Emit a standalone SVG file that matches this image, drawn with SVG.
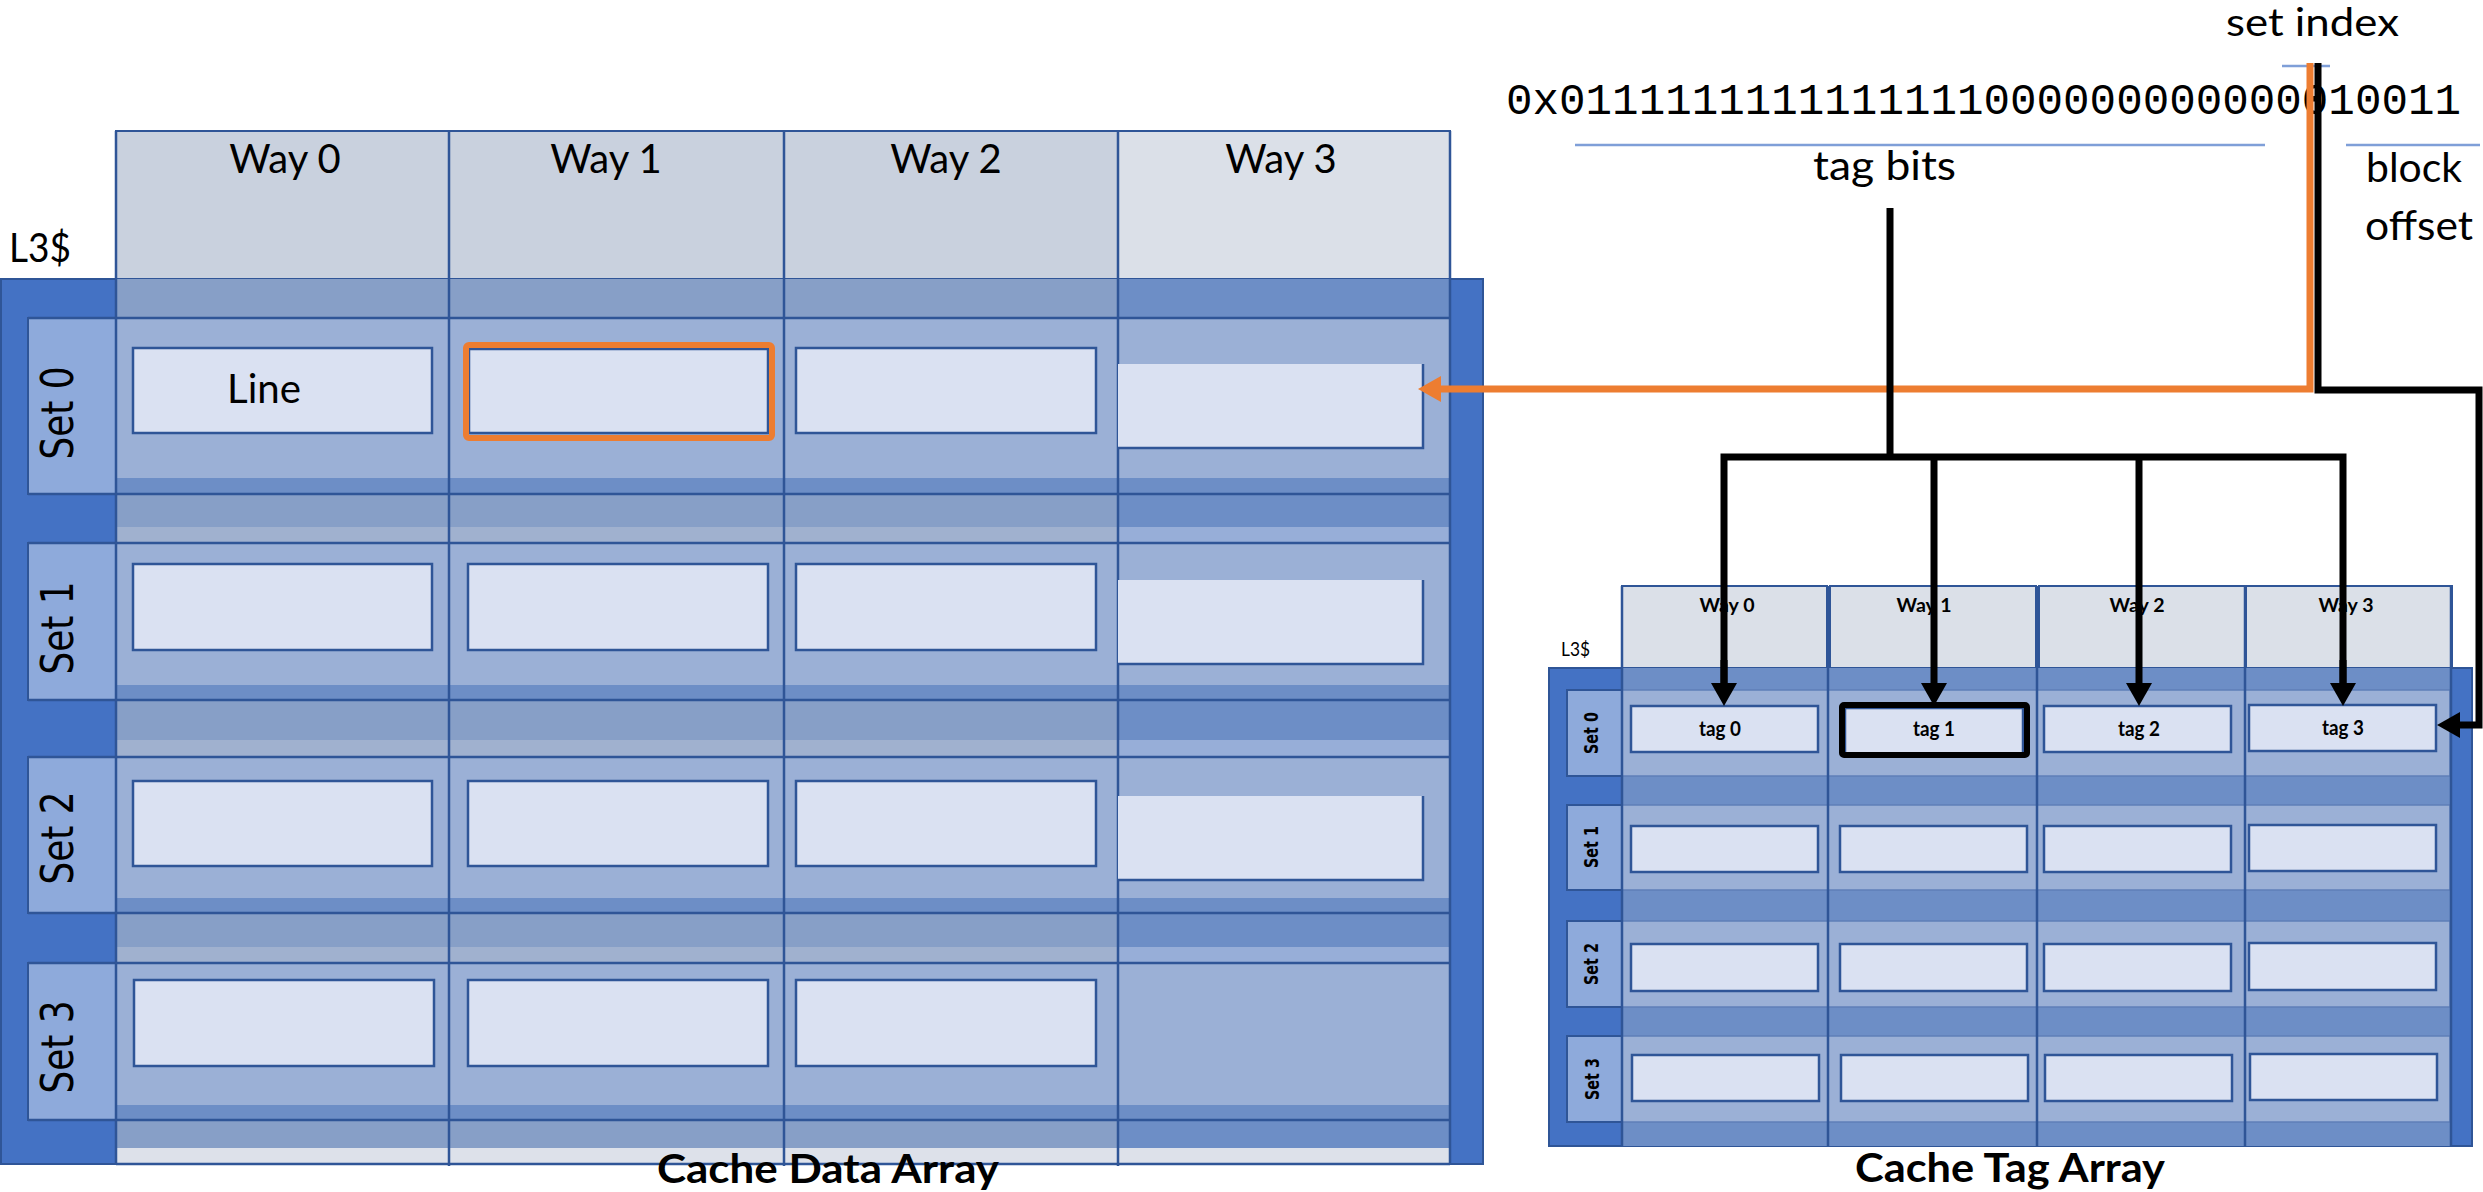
<svg xmlns="http://www.w3.org/2000/svg" width="2483" height="1192" viewBox="0 0 2483 1192">
<defs>
<style>
.hdr{fill:#c9d1de;stroke:#2f5597;stroke-width:2}
.hdr3{fill:#dbe0e8;stroke:#2f5597;stroke-width:2}
.outer{fill:#4472c4;stroke:#2f5597;stroke-width:2}
.bandD{fill:#879fc7}
.bandD3{fill:#6d8ec6}
.bandL{fill:#a0b1cf}
.bandL3{fill:#97aed8}
.setrow{fill:#9bb0d6}
.strip{fill:#6d8ec6}
.lbl{fill:#8eaadb;stroke:#2f5597;stroke-width:2}
.grid{stroke:#2f5597;stroke-width:2.5;fill:none}
.box{fill:#dae1f2;stroke:#2f5597;stroke-width:2.5}
.boxfill{fill:#dae1f2}
.t{font-family:Lato,'Liberation Sans',sans-serif;fill:#000}
.tb{font-family:Lato,'Liberation Sans',sans-serif;font-weight:bold;fill:#000}
.set{font-family:'DejaVu Sans',Verdana,sans-serif;fill:#000}
.setb{font-family:'DejaVu Sans',Verdana,sans-serif;font-weight:bold;fill:#000}
.mono{font-family:'Liberation Mono','DejaVu Sans Mono',monospace;fill:#000}
.blk{stroke:#000;stroke-width:7;fill:none;stroke-linejoin:miter}
.org{stroke:#ed7d31;stroke-width:7;fill:none}
.ul{stroke:#7f9fd8;stroke-width:2.5}
</style>
<marker id="ahB" markerUnits="userSpaceOnUse" markerWidth="24" markerHeight="26" viewBox="0 0 24 26" refX="0" refY="13" orient="auto"><path d="M0,0 L23,13 L0,26 Z" fill="#000"/></marker>
<marker id="ahO" markerUnits="userSpaceOnUse" markerWidth="24" markerHeight="26" viewBox="0 0 24 26" refX="0" refY="13" orient="auto"><path d="M0,0 L23,13 L0,26 Z" fill="#ed7d31"/></marker>
</defs>

<g id="address">
<text class="t" x="2226" y="36" font-size="38" textLength="173" lengthAdjust="spacingAndGlyphs">set index</text>
<line class="ul" x1="2282" y1="66" x2="2330" y2="66"/>
<text class="mono" x="1506" y="114" font-size="44" textLength="955" lengthAdjust="spacingAndGlyphs">0x0111111111111111000000000000010011</text>
<line class="ul" x1="1575" y1="145" x2="2265" y2="145"/>
<line class="ul" x1="2346" y1="145" x2="2480" y2="145"/>
<text class="t" x="1813" y="180" font-size="40" textLength="143" lengthAdjust="spacingAndGlyphs">tag bits</text>
<text class="t" x="2366" y="182" font-size="40" textLength="96" lengthAdjust="spacingAndGlyphs">block</text>
<text class="t" x="2365" y="240" font-size="40" textLength="108" lengthAdjust="spacingAndGlyphs">offset</text>
</g>

<g id="data-array">
<text class="t" x="9" y="262" font-size="40" textLength="62" lengthAdjust="spacingAndGlyphs">L3$</text>
<rect class="hdr" x="116" y="131" width="333" height="148"/>
<rect class="hdr" x="449" y="131" width="335" height="148"/>
<rect class="hdr" x="784" y="131" width="334" height="148"/>
<rect class="hdr3" x="1118" y="131" width="332" height="148"/>
<text class="t" x="285" y="173" font-size="40" text-anchor="middle">Way 0</text>
<text class="t" x="606" y="173" font-size="40" text-anchor="middle">Way 1</text>
<text class="t" x="946" y="173" font-size="40" text-anchor="middle">Way 2</text>
<text class="t" x="1281" y="173" font-size="40" text-anchor="middle">Way 3</text>
<rect class="outer" x="1" y="279" width="1482" height="885"/>
<rect class="bandD" x="116" y="279" width="1002" height="39"/><rect class="bandD3" x="1118" y="279" width="332" height="39"/>
<rect class="bandD" x="116" y="494" width="1002" height="33"/><rect class="bandD3" x="1118" y="494" width="332" height="33"/>
<rect class="bandL" x="116" y="527" width="1002" height="16"/><rect class="bandL3" x="1118" y="527" width="332" height="16"/>
<rect class="bandD" x="116" y="700" width="1002" height="40"/><rect class="bandD3" x="1118" y="700" width="332" height="40"/>
<rect class="bandL" x="116" y="740" width="1002" height="17"/><rect class="bandL3" x="1118" y="740" width="332" height="17"/>
<rect class="bandD" x="116" y="913" width="1002" height="34"/><rect class="bandD3" x="1118" y="913" width="332" height="34"/>
<rect class="bandL" x="116" y="947" width="1002" height="16"/><rect class="bandL3" x="1118" y="947" width="332" height="16"/>
<rect class="bandD" x="116" y="1120" width="1002" height="28"/><rect class="bandD3" x="1118" y="1120" width="332" height="28"/>
<rect x="116" y="1148" width="1334" height="15" fill="#dde1ea"/>
<rect class="setrow" x="116" y="318" width="1334" height="176"/><rect class="strip" x="116" y="478" width="1334" height="16"/>
<rect class="setrow" x="116" y="543" width="1334" height="157"/><rect class="strip" x="116" y="685" width="1334" height="15"/>
<rect class="setrow" x="116" y="757" width="1334" height="156"/><rect class="strip" x="116" y="898" width="1334" height="15"/>
<rect class="setrow" x="116" y="963" width="1334" height="157"/><rect class="strip" x="116" y="1105" width="1334" height="15"/>
<rect class="lbl" x="28" y="318" width="88" height="176"/>
<rect class="lbl" x="28" y="543" width="88" height="157"/>
<rect class="lbl" x="28" y="757" width="88" height="156"/>
<rect class="lbl" x="28" y="963" width="88" height="157"/>
<path class="grid" d="M28,318H1450M28,494H1450M28,543H1450M28,700H1450M28,757H1450M28,913H1450M28,963H1450M28,1120H1450M116,1164H1450"/>
<path class="grid" d="M116,131V1164M449,131V1166M784,131V1166M1118,131V1166M1450,131V1164"/>
<text class="set" font-size="44" text-anchor="middle" textLength="93" lengthAdjust="spacingAndGlyphs" transform="translate(73,413) rotate(-90)">Set 0</text>
<text class="set" font-size="44" text-anchor="middle" textLength="93" lengthAdjust="spacingAndGlyphs" transform="translate(73,628) rotate(-90)">Set 1</text>
<text class="set" font-size="44" text-anchor="middle" textLength="93" lengthAdjust="spacingAndGlyphs" transform="translate(73,838) rotate(-90)">Set 2</text>
<text class="set" font-size="44" text-anchor="middle" textLength="93" lengthAdjust="spacingAndGlyphs" transform="translate(73,1047) rotate(-90)">Set 3</text>
<rect class="box" x="133" y="348" width="299" height="85"/>
<rect class="box" x="469" y="349" width="299" height="84"/>
<rect class="box" x="796" y="348" width="300" height="85"/>
<rect class="boxfill" x="1118" y="364" width="305" height="84"/>
<path class="grid" d="M1423,364V448H1118"/>
<rect class="box" x="133" y="564" width="299" height="86"/>
<rect class="box" x="468" y="564" width="300" height="86"/>
<rect class="box" x="796" y="564" width="300" height="86"/>
<rect class="boxfill" x="1118" y="580" width="305" height="84"/>
<path class="grid" d="M1423,580V664H1118"/>
<rect class="box" x="133" y="781" width="299" height="85"/>
<rect class="box" x="468" y="781" width="300" height="85"/>
<rect class="box" x="796" y="781" width="300" height="85"/>
<rect class="boxfill" x="1118" y="796" width="305" height="84"/>
<path class="grid" d="M1423,796V880H1118"/>
<rect class="box" x="134" y="980" width="300" height="86"/>
<rect class="box" x="468" y="980" width="300" height="86"/>
<rect class="box" x="796" y="980" width="300" height="86"/>
<text class="t" x="227" y="403" font-size="41" textLength="74" lengthAdjust="spacingAndGlyphs">Line</text>
<rect x="466" y="345" width="306" height="93" rx="3" fill="none" stroke="#ed7d31" stroke-width="6"/>
<text class="tb" x="828" y="1183" font-size="40" text-anchor="middle" textLength="342" lengthAdjust="spacingAndGlyphs">Cache Data Array</text>
</g>

<g id="tag-array">
<text class="t" x="1561" y="656" font-size="19" textLength="29" lengthAdjust="spacingAndGlyphs">L3$</text>
<rect class="hdr3" x="1622" y="586" width="205" height="82"/>
<rect class="hdr3" x="1830" y="586" width="206" height="82"/>
<rect class="hdr3" x="2039" y="586" width="206" height="82"/>
<rect class="hdr3" x="2246" y="586" width="206" height="82"/>
<text class="tb" x="1727" y="612" font-size="19" text-anchor="middle" textLength="55" lengthAdjust="spacingAndGlyphs">Way 0</text>
<text class="tb" x="1924" y="612" font-size="19" text-anchor="middle" textLength="55" lengthAdjust="spacingAndGlyphs">Way 1</text>
<text class="tb" x="2137" y="612" font-size="19" text-anchor="middle" textLength="55" lengthAdjust="spacingAndGlyphs">Way 2</text>
<text class="tb" x="2346" y="612" font-size="19" text-anchor="middle" textLength="55" lengthAdjust="spacingAndGlyphs">Way 3</text>
<rect class="outer" x="1549" y="668" width="923" height="478"/>
<rect x="1622" y="668" width="828" height="478" fill="#6d8ec6"/>
<rect class="setrow" x="1567" y="690" width="883" height="86" stroke="#5f7fb8" stroke-width="1.5"/>
<rect class="setrow" x="1567" y="805" width="883" height="85" stroke="#5f7fb8" stroke-width="1.5"/>
<rect class="setrow" x="1567" y="921" width="883" height="86" stroke="#5f7fb8" stroke-width="1.5"/>
<rect class="setrow" x="1567" y="1036" width="883" height="86" stroke="#5f7fb8" stroke-width="1.5"/>
<rect class="lbl" x="1567" y="690" width="55" height="86"/>
<rect class="lbl" x="1567" y="805" width="55" height="85"/>
<rect class="lbl" x="1567" y="921" width="55" height="86"/>
<rect class="lbl" x="1567" y="1036" width="55" height="86"/>
<path class="grid" stroke-width="3" d="M1622,586V1146M1828,586V1146M2037,586V1146M2245,586V1146M2451,586V1146"/>
<text class="setb" font-size="20" text-anchor="middle" textLength="42" lengthAdjust="spacingAndGlyphs" transform="translate(1598,733) rotate(-90)">Set 0</text>
<text class="setb" font-size="20" text-anchor="middle" textLength="42" lengthAdjust="spacingAndGlyphs" transform="translate(1598,847) rotate(-90)">Set 1</text>
<text class="setb" font-size="20" text-anchor="middle" textLength="42" lengthAdjust="spacingAndGlyphs" transform="translate(1598,964) rotate(-90)">Set 2</text>
<text class="setb" font-size="20" text-anchor="middle" textLength="42" lengthAdjust="spacingAndGlyphs" transform="translate(1599,1079) rotate(-90)">Set 3</text>
<rect class="box" x="1631" y="706" width="187" height="46"/>
<rect class="box" x="1845" y="708" width="178" height="47"/>
<rect class="box" x="2044" y="706" width="187" height="46"/>
<rect class="box" x="2249" y="705" width="187" height="46"/>
<rect x="1842" y="705" width="185" height="50" rx="2" fill="none" stroke="#000" stroke-width="6"/>
<text class="tb" x="1720" y="736" font-size="20" text-anchor="middle" textLength="42" lengthAdjust="spacingAndGlyphs">tag 0</text>
<text class="tb" x="1934" y="736" font-size="20" text-anchor="middle" textLength="42" lengthAdjust="spacingAndGlyphs">tag 1</text>
<text class="tb" x="2139" y="736" font-size="20" text-anchor="middle" textLength="42" lengthAdjust="spacingAndGlyphs">tag 2</text>
<text class="tb" x="2343" y="735" font-size="20" text-anchor="middle" textLength="42" lengthAdjust="spacingAndGlyphs">tag 3</text>
<rect class="box" x="1631" y="826" width="187" height="46"/>
<rect class="box" x="1840" y="826" width="187" height="46"/>
<rect class="box" x="2044" y="826" width="187" height="46"/>
<rect class="box" x="2249" y="825" width="187" height="46"/>
<rect class="box" x="1631" y="944" width="187" height="47"/>
<rect class="box" x="1840" y="944" width="187" height="47"/>
<rect class="box" x="2044" y="944" width="187" height="47"/>
<rect class="box" x="2249" y="943" width="187" height="47"/>
<rect class="box" x="1632" y="1055" width="187" height="46"/>
<rect class="box" x="1841" y="1055" width="187" height="46"/>
<rect class="box" x="2045" y="1055" width="187" height="46"/>
<rect class="box" x="2250" y="1054" width="187" height="46"/>
<text class="tb" x="2010" y="1182" font-size="40" text-anchor="middle" textLength="310" lengthAdjust="spacingAndGlyphs">Cache Tag Array</text>
</g>

<g id="connectors">
<path class="org" d="M2310,63V389H1441" marker-end="url(#ahO)"/>
<path class="blk" d="M2318,63V390H2479V725H2460" marker-end="url(#ahB)"/>
<path class="blk" d="M1890,208V457"/>
<path class="blk" d="M1724,683V457H2343V683"/>
<path class="blk" d="M1724,660V683" marker-end="url(#ahB)"/>
<path class="blk" d="M1934,457V683" marker-end="url(#ahB)"/>
<path class="blk" d="M2139,457V683" marker-end="url(#ahB)"/>
<path class="blk" d="M2343,660V683" marker-end="url(#ahB)"/>
</g>
</svg>
